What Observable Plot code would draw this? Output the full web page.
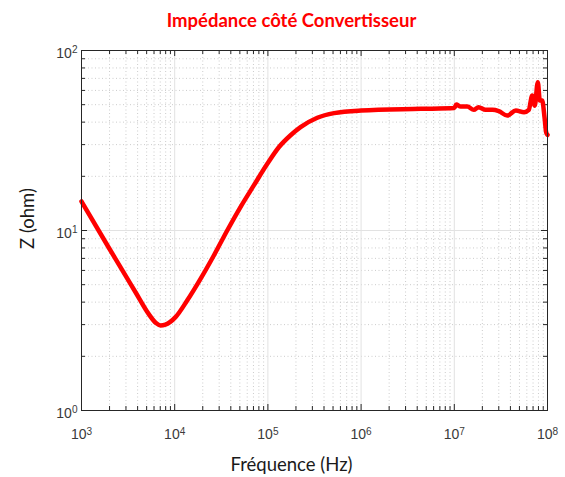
<!DOCTYPE html>
<html>
<head>
<meta charset="utf-8">
<script src="https://cdn.jsdelivr.net/npm/d3@7"></script>
<script src="https://cdn.jsdelivr.net/npm/@observablehq/plot@0.6"></script>
<style>
  html, body { margin: 0; padding: 0; background: white; }
</style>
</head>
<body>
<div id="chart"></div>
<script>
// Data
const freqHz = [1000, 1950, 3800, 5250, 6300, 7050, 7940, 10200, 13600, 19000, 26300, 36600, 50800, 70600, 98200, 131000, 174000, 224000, 339000, 513000, 1e6, 4.37e6, 1e7, 1.05e7, 1.17e7, 1.38e7, 1.62e7, 1.82e7, 2.16e7, 2.57e7, 3.0e7, 3.7e7, 4.57e7, 5.6e7, 6.3e7, 6.86e7, 7.3e7, 7.87e7, 8.28e7, 8.77e7, 9.29e7, 9.68e7, 1e8];
const zOhm   = [14.5, 8.07, 4.54, 3.44, 3.06, 2.97, 3.0, 3.30, 4.08, 5.40, 7.26, 10.0, 13.5, 17.8, 23.4, 29.0, 33.7, 37.5, 42.3, 44.9, 46.4, 47.4, 47.9, 50.1, 48.8, 48.8, 46.8, 48.4, 46.8, 46.8, 46.0, 43.5, 46.4, 45.4, 46.8, 56.2, 49.4, 66.7, 52.7, 52.7, 42.6, 35.1, 34.0];

const xMajorTicks = [1e3, 1e4, 1e5, 1e6, 1e7, 1e8];
const yMajorTicks = [1, 10, 100];
const minorMultipliers = [2, 3, 4, 5, 6, 7, 8, 9];

const titleText = "Impédance côté Convertisseur";
const xLabelText = "Fréquence (Hz)";
const yLabelText = "Z (ohm)";

const xMinorTicks = xMajorTicks.slice(0, -1).flatMap(d => minorMultipliers.map(m => d * m));
const yMinorTicks = yMajorTicks.slice(0, -1).flatMap(d => minorMultipliers.map(m => d * m));

const W = 565, H = 477, ML = 81, MR = 18, MT = 50, MB = 67;
const FW = W - ML - MR, FH = H - MT - MB;
const axisColor = "#262626";
const expFormat = d => "10^" + Math.round(Math.log10(d));
const labelFont = "Lato, 'Open Sans', sans-serif";
const tickFont = "Liberation Sans, Arial, sans-serif";

const chart = Plot.plot({
  width: W, height: H,
  marginLeft: ML, marginRight: MR, marginTop: MT, marginBottom: MB,
  style: { fontFamily: tickFont, fontSize: "14px", color: axisColor, background: "white" },
  x: { type: "log", domain: [1e3, 1e8] },
  y: { type: "log", domain: [1, 100] },
  marks: [
    // minor grid (dotted)
    Plot.ruleX(xMinorTicks, { stroke: "#cccccc", strokeDasharray: "1,2.5", strokeWidth: 1 }),
    Plot.ruleY(yMinorTicks, { stroke: "#cccccc", strokeDasharray: "1,2.5", strokeWidth: 1 }),
    // major grid (solid)
    Plot.ruleX(xMajorTicks, { stroke: "#e2e2e2", strokeWidth: 1 }),
    Plot.ruleY(yMajorTicks, { stroke: "#e2e2e2", strokeWidth: 1 }),
    // inward ticks: bottom & top
    Plot.ruleX(xMajorTicks, { stroke: axisColor, insetTop: FH - 6 }),
    Plot.ruleX(xMajorTicks, { stroke: axisColor, insetBottom: FH - 6 }),
    Plot.ruleX(xMinorTicks, { stroke: axisColor, insetTop: FH - 4 }),
    Plot.ruleX(xMinorTicks, { stroke: axisColor, insetBottom: FH - 4 }),
    // inward ticks: left & right
    Plot.ruleY(yMajorTicks, { stroke: axisColor, insetRight: FW - 6 }),
    Plot.ruleY(yMajorTicks, { stroke: axisColor, insetLeft: FW - 6 }),
    Plot.ruleY(yMinorTicks, { stroke: axisColor, insetRight: FW - 4 }),
    Plot.ruleY(yMinorTicks, { stroke: axisColor, insetLeft: FW - 4 }),
    // data line
    Plot.line(freqHz, { x: freqHz, y: zOhm, stroke: "#ff0000", strokeWidth: 4.5, curve: "monotone-x", strokeLinejoin: "round" }),
    Plot.frame({ stroke: axisColor, strokeWidth: 1 }),
    // axes
    Plot.axisX(xMajorTicks, { tickSize: 0, tickPadding: 19, tickFormat: expFormat, label: null, fill: "#3a3a3a", fontSize: 14, fontFamily: tickFont }),
    Plot.axisY(yMajorTicks, { tickSize: 0, tickPadding: 4, tickFormat: expFormat, label: null, fill: "#3a3a3a", dy: 3, fontSize: 14, fontFamily: tickFont }),
    // title and axis labels
    Plot.text([titleText], { text: d => d, frameAnchor: "top", lineAnchor: "middle", textAnchor: "middle", dy: -29, dx: -23, fill: "#ff0000", fontWeight: "bold", fontSize: 18.5, fontFamily: labelFont }),
    Plot.text([xLabelText], { text: d => d, frameAnchor: "bottom", lineAnchor: "middle", textAnchor: "middle", dy: 55, dx: -23, fill: "#1a1a1a", fontSize: 18.5, fontFamily: labelFont }),
    Plot.text([yLabelText], { text: d => d, frameAnchor: "left", lineAnchor: "middle", textAnchor: "middle", rotate: -90, dx: -53, dy: -12, fill: "#1a1a1a", fontSize: 18.5, fontFamily: labelFont })
  ]
});

// Render exponent as superscript tspans
chart.querySelectorAll('g[aria-label="x-axis tick label"] text, g[aria-label="y-axis tick label"] text').forEach(t => {
  const s = t.textContent;
  const i = s.indexOf("^");
  if (i < 0) return;
  const base = s.slice(0, i), exp = s.slice(i + 1);
  t.textContent = "";
  const ns = "http://www.w3.org/2000/svg";
  const b = document.createElementNS(ns, "tspan");
  b.textContent = base;
  const e = document.createElementNS(ns, "tspan");
  e.textContent = exp;
  e.setAttribute("dy", "-0.45em");
  e.setAttribute("font-size", "0.72em");
  t.appendChild(b);
  t.appendChild(e);
});

document.getElementById("chart").appendChild(chart);
</script>
</body>
</html>
